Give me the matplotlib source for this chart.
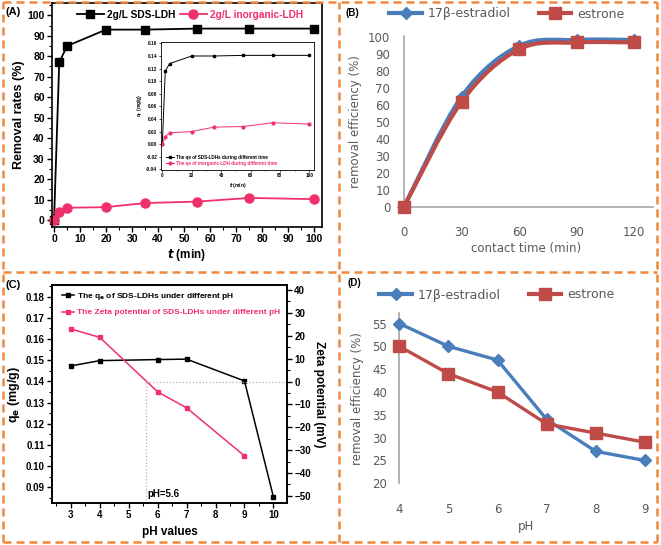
import numpy as np
import matplotlib
matplotlib.use('Agg')
import matplotlib.pyplot as plt
from matplotlib.path import Path
from matplotlib.patches import PathPatch
from matplotlib.lines import Line2D
from matplotlib.ticker import MultipleLocator

# ---- (A) 去除率 vs 时间 ----
t_a = [0, 2, 5, 20, 35, 55, 75, 100]
rate_sds = [0, 77, 85, 93, 93, 93.5, 93.5, 93.5]
rate_inorg = [0, 4, 6, 6.3, 8.3, 9, 10.8, 10.2]
qe_sds = [0, 0.116, 0.128, 0.140, 0.140, 0.141, 0.141, 0.141]
qe_inorg = [0, 0.012, 0.018, 0.020, 0.027, 0.028, 0.034, 0.032]
# ---- (B) ----
t_b = [0, 30, 60, 90, 120]
eff_e2_t = [0, 65, 95, 98.5, 98.5]
eff_e1_t = [0, 62, 93, 97, 97]
# ---- (C) ----
ph_c = [3, 4, 6, 7, 9, 10]
qe_ph = [0.1473, 0.1498, 0.1503, 0.1505, 0.1402, 0.0855]
ph_zeta = [3, 4, 6, 7, 9]
zeta = [23, 19.3, -4.5, -11.5, -32.5]
PZC = 5.6
# ---- (D) ----
ph_d = [4, 5, 6, 7, 8, 9]
eff_e2_ph = [55, 50, 47, 34, 27, 25]
eff_e1_ph = [50, 44, 40, 33, 31, 29]

W, H = 661, 545
PINK = '#F0306A'; BLUE = '#4A7EBB'; RED = '#BE4B48'
ORANGE = '#F0883A'; GREY_T = '#595959'; AX_G = '#A6A6A6'
ARIAL = 'Liberation Sans'; VERD = 'DejaVu Sans'

def box(l, t, r, b):
    """像素坐标 -> figure 坐标 [left, bottom, w, h]"""
    return [l/W, 1-b/H, (r-l)/W, (b-t)/H]

def smooth_path(x, y, k=1/6):
    # Excel 风格平滑线 (贝塞尔)
    x = np.asarray(x, float); y = np.asarray(y, float); n = len(x)
    verts = [(x[0], y[0])]; codes = [Path.MOVETO]
    for i in range(n-1):
        i0 = max(i-1, 0); i3 = min(i+2, n-1)
        c1 = (x[i] + (x[i+1]-x[i0])*k, y[i] + (y[i+1]-y[i0])*k)
        c2 = (x[i+1] - (x[i3]-x[i])*k, y[i+1] - (y[i3]-y[i])*k)
        verts += [c1, c2, (x[i+1], y[i+1])]; codes += [Path.CURVE4]*3
    return Path(verts, codes)

fig = plt.figure(figsize=(W/100, H/100), dpi=100)

# ================= (A) =================
axA = fig.add_axes(box(51.7, 3, 322, 227))
axA.plot(t_a, rate_sds, '-s', color='black', ms=6, lw=1.3, label='2g/L SDS-LDH', clip_on=False)
axA.plot(t_a, rate_inorg, '-o', color=PINK, ms=6.5, lw=1.3, label='2g/L inorganic-LDH', clip_on=False)
axA.set_xlim(-0.9, 103); axA.set_ylim(-3.4, 106)
axA.xaxis.set_major_locator(MultipleLocator(10)); axA.xaxis.set_minor_locator(MultipleLocator(5))
axA.yaxis.set_major_locator(MultipleLocator(10)); axA.yaxis.set_minor_locator(MultipleLocator(5))
axA.tick_params(direction='out', length=3.5, width=1, pad=1.5, labelsize=7.5)
axA.tick_params(which='minor', direction='out', length=2, width=0.8)
for lb in axA.get_xticklabels() + axA.get_yticklabels():
    lb.set_fontfamily(ARIAL); lb.set_fontweight('bold')
for s in axA.spines.values(): s.set_linewidth(1.2)
axA.set_ylabel('Removal rates (%)', fontsize=9, fontweight='bold', family=ARIAL, labelpad=2)
axA.set_xlabel(r'$\boldsymbol{t}$ (min)', fontsize=8.5, fontweight='bold', family=ARIAL, labelpad=2)
legA = axA.legend(loc='center', bbox_to_anchor=(190/W, 1-15/H), bbox_transform=fig.transFigure,
                  ncol=2, frameon=False, handlelength=2.6, columnspacing=0.5, handletextpad=0.3,
                  prop={'family': ARIAL, 'weight': 'bold', 'size': 7.3})
legA.get_texts()[1].set_color(PINK)
fig.text(6/W, 1-12/H, '(A)', fontsize=8, fontweight='bold', family=ARIAL, va='center')

# inset
axI = fig.add_axes(box(160.7, 41.7, 314.3, 170))
axI.plot(t_a, qe_sds, '-s', color='black', ms=1.8, lw=0.7,
         label='The qe of SDS-LDHs during different time')
axI.plot(t_a, qe_inorg, '-o', color=PINK, ms=2, lw=0.7,
         label='The qe of inorganic-LDH during different time')
axI.set_xlim(-1.1, 103.4); axI.set_ylim(-0.041, 0.1627)
axI.xaxis.set_major_locator(MultipleLocator(20)); axI.xaxis.set_minor_locator(MultipleLocator(10))
axI.yaxis.set_major_locator(MultipleLocator(0.02))
axI.yaxis.set_major_formatter(matplotlib.ticker.FormatStrFormatter('%.2f'))
axI.tick_params(direction='out', length=1.5, width=0.5, pad=1, labelsize=3.4)
axI.tick_params(which='minor', length=1, width=0.4)
for lb in axI.get_xticklabels() + axI.get_yticklabels():
    lb.set_fontfamily(ARIAL); lb.set_fontweight('bold')
for s in axI.spines.values(): s.set_linewidth(0.6)
axI.set_ylabel(r'q$_e$ (mg/g)', fontsize=3.4, fontweight='bold', family=ARIAL, labelpad=1.5)
axI.set_xlabel(r'$\boldsymbol{t}$ (min)', fontsize=3.6, fontweight='bold', family=ARIAL, labelpad=1.5)
legI = axI.legend(loc='lower left', bbox_to_anchor=(0.01, 0.0), frameon=False, handlelength=1.6,
                  handletextpad=0.4, labelspacing=0.2, prop={'family': ARIAL, 'weight': 'bold', 'size': 3.3})
legI.get_texts()[1].set_color(PINK)

# ================= (B) =================
axB = fig.add_axes(box(398.3, 35.7, 653.3, 206.7))
axB.set_xlim(-3, 130); axB.set_ylim(0, 101)
for yy, col, mk, ms in [(eff_e2_t, BLUE, 'D', 6), (eff_e1_t, RED, 's', 8)]:
    axB.add_patch(PathPatch(smooth_path(t_b, yy), fc='none', ec=col, lw=3, zorder=3, capstyle='round'))
    axB.plot(t_b, yy, ls='none', marker=mk, color=col, ms=ms, zorder=4, clip_on=False)
axB.spines[['top', 'right']].set_visible(False)
axB.spines['left'].set_position(('data', 0))
axB.spines['left'].set_color(AX_G); axB.spines['bottom'].set_color(AX_G)
axB.spines['left'].set_linewidth(1.2); axB.spines['bottom'].set_linewidth(1.2)
axB.set_xticks(t_b); axB.set_yticks(range(0, 101, 10))
axB.tick_params(length=0, labelsize=8.5, labelcolor=GREY_T)
axB.tick_params(axis='y', pad=10); axB.tick_params(axis='x', pad=14)
axB.set_xlabel('contact time (min)', fontsize=8.5, color=GREY_T, labelpad=2)
axB.set_ylabel('removal efficiency (%)', fontsize=8.5, color=GREY_T, labelpad=4)
hB = [Line2D([], [], color=BLUE, lw=3, marker='D', ms=6), Line2D([], [], color=RED, lw=3, marker='s', ms=8)]
fig.legend(hB, ['17β-estradiol', 'estrone'], loc='center', bbox_to_anchor=(507/W, 1-14/H), ncol=2,
           frameon=False, handlelength=2.6, columnspacing=2.2, handletextpad=0.5,
           prop={'family': VERD, 'size': 9}, labelcolor=GREY_T)
fig.text(346/W, 1-13/H, '(B)', fontsize=7, fontweight='bold', family=ARIAL, va='center')

# ================= (C) =================
axC = fig.add_axes(box(51.7, 285, 287.3, 503))
axZ = axC.twinx()
l1, = axC.plot(ph_c, qe_ph, '-s', color='black', ms=3.5, lw=1.1,
               label=r'The q$_\mathbf{e}$ of SDS-LDHs under different pH')
l2, = axZ.plot(ph_zeta, zeta, '-s', color=PINK, ms=3.5, lw=1.1,
               label='The Zeta potential of SDS-LDHs under different pH')
axC.set_xlim(2.34, 10.48); axC.set_ylim(0.0826, 0.1855); axZ.set_ylim(-53.1, 42.2)
axZ.plot([PZC, 10.48], [0, 0], ls=':', color='#C8A0C8', lw=0.9)
axZ.plot([PZC, PZC], [-53.1, 0], ls=':', color='#C8A0C8', lw=0.9)
axZ.text(PZC + 0.05, -49, 'pH=5.6', fontsize=7, fontweight='bold', family=ARIAL, va='center')
axC.xaxis.set_major_locator(MultipleLocator(1)); axC.xaxis.set_minor_locator(MultipleLocator(0.5))
axC.yaxis.set_major_locator(MultipleLocator(0.01)); axC.yaxis.set_minor_locator(MultipleLocator(0.005))
axC.yaxis.set_major_formatter(matplotlib.ticker.FormatStrFormatter('%.2f'))
axZ.yaxis.set_major_locator(MultipleLocator(10)); axZ.yaxis.set_minor_locator(MultipleLocator(5))
for a in (axC, axZ):
    a.tick_params(direction='out', length=3.5, width=1, pad=1.5, labelsize=7)
    a.tick_params(which='minor', direction='out', length=2, width=0.8)
    for lb in a.get_xticklabels() + a.get_yticklabels():
        lb.set_fontfamily(ARIAL); lb.set_fontweight('bold')
    for s in a.spines.values(): s.set_linewidth(1.2)
axC.set_xlim(2.34, 10.48)
axC.set_ylabel(r'q$_\mathbf{e}$ (mg/g)', fontsize=9, fontweight='bold', family=ARIAL, labelpad=3)
axZ.set_ylabel('Zeta potential (mV)', fontsize=8.5, fontweight='bold', family=ARIAL, rotation=270, labelpad=10)
axC.set_xlabel('pH values', fontsize=8.5, fontweight='bold', family=ARIAL, labelpad=4)
legC = axZ.legend([l1, l2], [l1.get_label(), l2.get_label()], loc='upper left', bbox_to_anchor=(0.01, 1.005),
                  frameon=False, handlelength=1.5, handletextpad=0.4, labelspacing=0.75,
                  prop={'family': ARIAL, 'weight': 'bold', 'size': 6.0})
legC.get_texts()[1].set_color(PINK)
fig.text(6/W, 1-285/H, '(C)', fontsize=8, fontweight='bold', family=ARIAL, va='center')

# ================= (D) =================
axD = fig.add_axes(box(399.3, 313, 652.2, 483.3))
axD.plot(ph_d, eff_e2_ph, '-D', color=BLUE, lw=2.4, ms=6, clip_on=False, zorder=3)
axD.plot(ph_d, eff_e1_ph, '-s', color=RED, lw=2.4, ms=8, clip_on=False, zorder=4)
axD.set_xlim(4, 9.15); axD.set_ylim(20, 57.3)
axD.spines[['top', 'right', 'bottom']].set_visible(False)
axD.spines['left'].set_color(AX_G); axD.spines['left'].set_linewidth(1.2)
axD.set_xticks(ph_d); axD.set_yticks(range(20, 56, 5))
axD.tick_params(length=0, labelsize=8.5, labelcolor=GREY_T)
axD.tick_params(axis='y', pad=9); axD.tick_params(axis='x', pad=14)
axD.set_xlabel('pH', fontsize=8.5, color=GREY_T, labelpad=3)
axD.set_ylabel('removal efficiency (%)', fontsize=8.5, color=GREY_T, labelpad=6)
fig.legend(hB, ['17β-estradiol', 'estrone'], loc='center', bbox_to_anchor=(497/W, 1-295/H), ncol=2,
           frameon=False, handlelength=2.6, columnspacing=2.2, handletextpad=0.5,
           prop={'family': VERD, 'size': 9}, labelcolor=GREY_T)
fig.text(348/W, 1-283/H, '(D)', fontsize=7, fontweight='bold', family=ARIAL, va='center')

# ---- 橙色虚线边框 ----
bx = dict(color=ORANGE, lw=1.8, ls=(0, (3.2, 2)), transform=fig.transFigure, zorder=10)
L, R, T, B, MX, MY = 3/W, 657/W, 1-2/H, 1-542/H, 339/W, 1-272/H
for xs, ys in [([L, R], [T, T]), ([L, R], [B, B]), ([L, R], [MY, MY]),
               ([L, L], [B, T]), ([R, R], [B, T]), ([MX, MX], [B, T])]:
    fig.add_artist(Line2D(xs, ys, **bx))

fig.savefig('out.png', dpi=100)
